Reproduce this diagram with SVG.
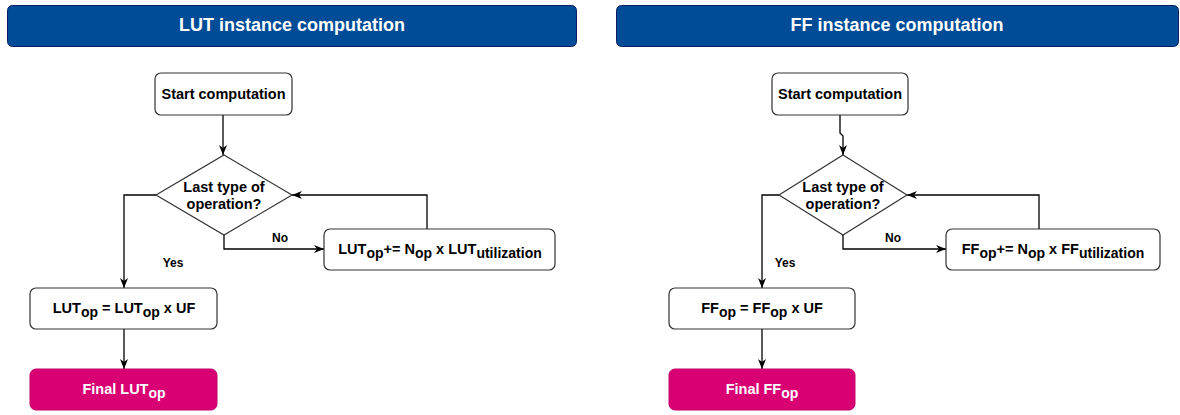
<svg xmlns="http://www.w3.org/2000/svg" width="1180" height="415" viewBox="0 0 1180 415">
<defs>
<style>
text{font-family:"Liberation Sans",Arial,sans-serif;font-weight:bold;fill:#000}
.hdr rect{fill:#004C97;stroke:#0A1F66;stroke-width:1}
.hdr text{fill:#fff;font-size:18px}
.box{fill:#fff;stroke:#333;stroke-width:1.2}
.fin{fill:#D80073;stroke:#C2006A;stroke-width:1}
.t{font-size:14.5px}
.s{font-size:14px}
.lbl{font-size:12px}
.wt{fill:#fff}
.conn path{fill:none;stroke:#000;stroke-width:1.3;marker-end:url(#arr)}
</style>
<marker id="arr" viewBox="0 0 10 10" refX="10" refY="5" markerWidth="10" markerHeight="10" markerUnits="userSpaceOnUse" orient="auto">
<path d="M0,1 L10,5 L0,9 L3,5 z" fill="#000"/>
</marker>
</defs>
<rect width="1180" height="415" fill="#fff"/>

<g id="hdr-lut" class="hdr"><rect x="7.5" y="5.5" width="569" height="41" rx="5"/><text x="292" y="31" text-anchor="middle">LUT instance computation</text></g>
<g id="hdr-ff" class="hdr"><rect x="616.5" y="5.5" width="562" height="41" rx="5"/><text x="897" y="31" text-anchor="middle">FF instance computation</text></g>

<g class="conn">
<path d="M223,115 V155"/>
<path d="M156,195 H124 V288"/>
<path d="M224,235 V249 H324"/>
<path d="M427,229 V195 H292"/>
<path d="M124,329 V369"/>
<path d="M840,115 V133 L843,136 V155"/>
<path d="M779,195 H762 V288"/>
<path d="M843,235 V249 H946"/>
<path d="M1039,229 V195 H907"/>
<path d="M762,329 V369"/>
</g>

<g id="lut-labels">
<text class="lbl" x="280" y="242" text-anchor="middle">No</text>
<text class="lbl" x="173" y="267" text-anchor="middle">Yes</text>
</g>
<g id="ff-labels">
<text class="lbl" x="893" y="242" text-anchor="middle">No</text>
<text class="lbl" x="785" y="267" text-anchor="middle">Yes</text>
</g>

<g id="lut-start"><rect class="box" x="155" y="73" width="137" height="42" rx="6"/><text class="t" x="223.5" y="99" text-anchor="middle">Start computation</text></g>
<g id="lut-decision"><polygon class="box" points="224,155 292,195 224,235 156,195"/><text class="t" x="224" y="192" text-anchor="middle">Last type of</text><text class="t" x="224" y="209" text-anchor="middle">operation?</text></g>
<g id="lut-accum"><rect class="box" x="324" y="229" width="231" height="41" rx="6"/><text class="t" x="440" y="254" text-anchor="middle">LUT<tspan class="s" dy="4">op</tspan><tspan dy="-4">+= N</tspan><tspan class="s" dy="4">op</tspan><tspan dy="-4"> x LUT</tspan><tspan class="s" dy="4">utilization</tspan></text></g>
<g id="lut-uf"><rect class="box" x="30" y="288" width="187" height="41" rx="6"/><text class="t" x="124" y="313" text-anchor="middle">LUT<tspan class="s" dy="4">op</tspan><tspan dy="-4"> = LUT</tspan><tspan class="s" dy="4">op</tspan><tspan dy="-4"> x UF</tspan></text></g>
<g id="lut-final"><rect class="fin" x="30" y="369" width="187" height="41" rx="6"/><text class="t wt" x="124" y="394" text-anchor="middle">Final LUT<tspan class="s wt" dy="4">op</tspan></text></g>

<g id="ff-start"><rect class="box" x="772" y="73" width="136" height="42" rx="6"/><text class="t" x="840" y="99" text-anchor="middle">Start computation</text></g>
<g id="ff-decision"><polygon class="box" points="843,155 907,195 843,235 779,195"/><text class="t" x="843" y="192" text-anchor="middle">Last type of</text><text class="t" x="843" y="209" text-anchor="middle">operation?</text></g>
<g id="ff-accum"><rect class="box" x="946" y="229" width="214" height="41" rx="6"/><text class="t" x="1053" y="254" text-anchor="middle">FF<tspan class="s" dy="4">op</tspan><tspan dy="-4">+= N</tspan><tspan class="s" dy="4">op</tspan><tspan dy="-4"> x FF</tspan><tspan class="s" dy="4">utilization</tspan></text></g>
<g id="ff-uf"><rect class="box" x="669" y="288" width="186" height="41" rx="6"/><text class="t" x="762" y="313" text-anchor="middle">FF<tspan class="s" dy="4">op</tspan><tspan dy="-4"> = FF</tspan><tspan class="s" dy="4">op</tspan><tspan dy="-4"> x UF</tspan></text></g>
<g id="ff-final"><rect class="fin" x="669" y="369" width="186" height="41" rx="6"/><text class="t wt" x="762" y="394" text-anchor="middle">Final FF<tspan class="s wt" dy="4">op</tspan></text></g>
</svg>
